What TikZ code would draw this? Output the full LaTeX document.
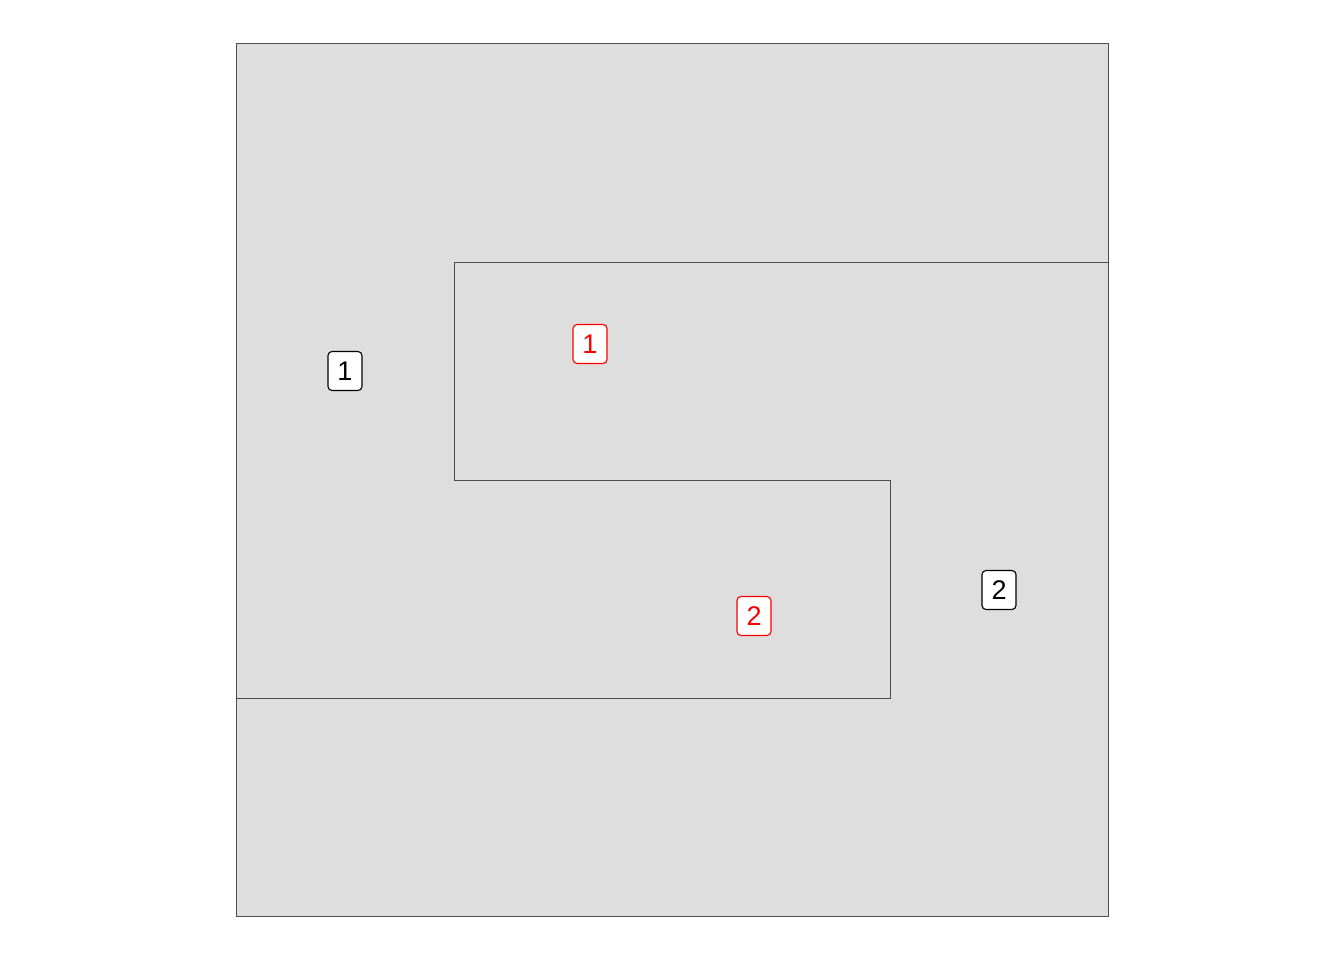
\documentclass[tikz,border=0pt]{standalone}
\usepackage{fontspec}
\setmainfont{Liberation Sans}
\definecolor{regfill}{HTML}{DEDEDE}
\definecolor{regline}{HTML}{4D4D4D}
\begin{document}
\begin{tikzpicture}[x=1pt,y=-1pt,
  region/.style={draw=regline,line width=1pt,fill=regfill},
  lab/.style={draw=black,fill=white,rounded corners=4pt,line width=1.1pt,minimum width=34pt,minimum height=39pt,inner sep=0pt,font=\fontsize{27}{27}\selectfont},
  redlab/.style={lab,draw=red,text=red}]
\useasboundingbox (0,0) rectangle (1344,960);
\fill[white] (0,0) rectangle (1344,960);
\draw[region] (236,44) rectangle (1108,916);
\draw[draw=regline,line width=1pt] (1108,262) -- (454,262) -- (454,480) -- (890,480) -- (890,698) -- (236,698);
\node[lab] (b1) at (345,371) {1};
\node[lab] (b2) at (999,590) {2};
\node[redlab] (r1) at (590,344) {1};
\node[redlab] (r2) at (754,616) {2};
\end{tikzpicture}
\end{document}
